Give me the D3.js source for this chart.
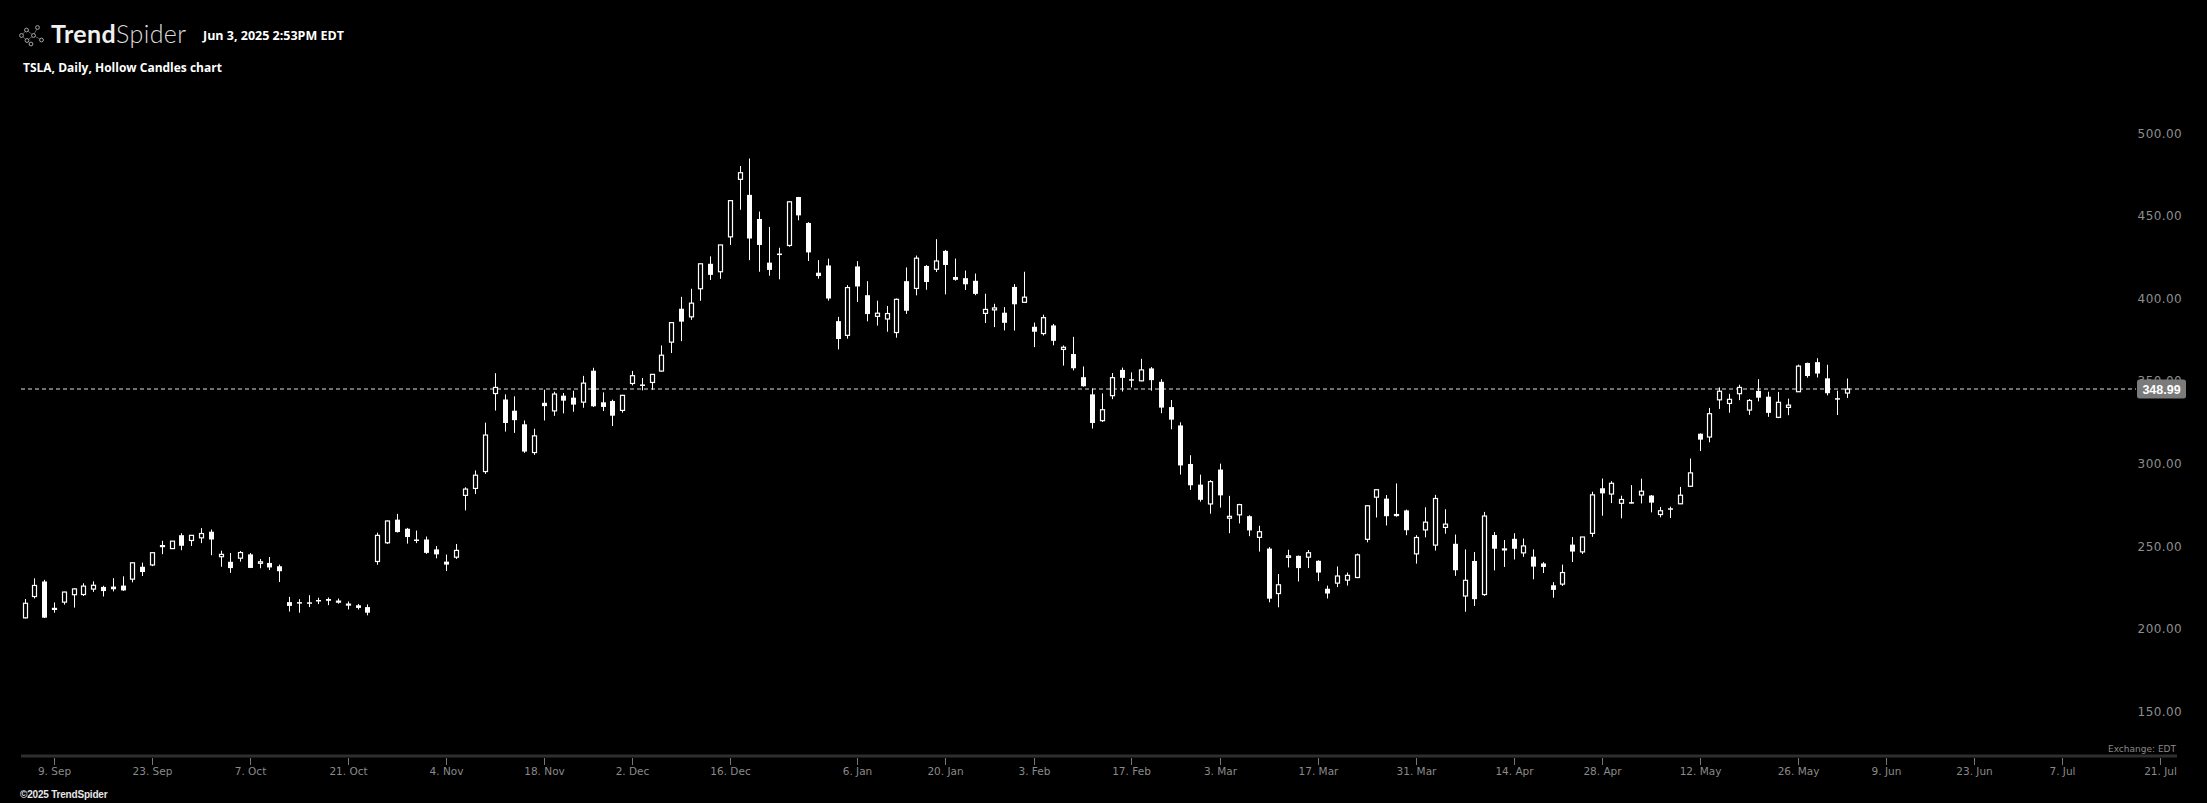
<!DOCTYPE html>
<html><head><meta charset="utf-8">
<script src="https://cdn.jsdelivr.net/npm/d3@7"></script>
<style>html,body{margin:0;padding:0;background:#000;overflow:hidden}</style>
</head><body>
<svg id="chart" width="2207" height="803"></svg>
<script>
// ---- calendar (NYSE trading days) ----
const calendarStart = "2024-09-04";
const calendarEnd = "2025-07-21";
const holidays = ["2024-11-28","2024-12-25","2025-01-01","2025-01-09","2025-01-20",
  "2025-02-17","2025-04-18","2025-05-26","2025-06-19","2025-07-04"];

// ---- OHLC values, one per trading day from 2024-09-04 to 2025-06-03 ----
const opens = [
 210.6,223.5,232.6,216.2,220.1,224.6,224.7,228.0,229.3,229.5,230.1,234.0,241.5,242.6,254.1,252.5,260.6,257.4,259.0,
 262.7,247.6,244.5,246.7,249.0,243.6,243.8,241.8,220.1,220.1,220.0,221.4,222.0,220.7,218.9,218.2,217.1,244.7,256.0,270.0,264.5,258.0,258.0,
 252.0,244.6,247.3,284.7,288.9,299.1,346.3,342.7,335.9,327.7,310.6,340.7,335.8,345.0,343.8,341.1,360.1,341.0,341.8,336.1,
 352.4,351.8,353.0,359.9,377.4,397.6,392.7,409.7,424.8,420.0,441.1,475.9,466.5,451.9,425.5,431.0,435.9,465.2,449.5,419.4,423.8,
 390.1,381.5,423.2,405.8,393.0,391.4,383.2,414.3,409.9,423.5,421.5,432.6,416.8,416.1,414.5,394.8,396.9,395.2,410.8,401.5,
 386.7,382.6,387.5,373.0,370.2,356.2,345.8,329.9,345.0,360.6,355.0,354.0,361.5,353.4,338.1,327.0,303.7,291.2,279.5,
 300.3,270.9,272.9,272.1,259.3,252.5,225.3,247.2,248.1,247.3,245.1,228.2,231.6,233.4,235.0,258.1,283.6,282.7,272.5,275.6,249.3,
 263.8,254.6,265.3,255.4,223.8,245.0,224.7,260.7,251.8,258.4,249.9,247.6,243.5,230.3,231.0,254.9,250.5,261.7,289.0,285.5,279.9,
 280.6,284.9,284.6,273.1,276.9,279.6,290.2,322.0,320.0,342.5,340.3,346.2,336.3,347.9,344.4,331.9,337.9,347.4,364.8,365.3,355.5,
 343.5,346.6];
const highs = [
 222.0,234.5,233.6,219.9,226.4,228.5,231.5,232.7,230.0,234.6,235.7,244.2,244.0,250.0,257.2,257.1,261.8,260.7,264.9,
 264.0,251.2,249.8,251.0,249.8,246.2,247.4,242.8,223.3,221.9,224.3,222.8,222.9,222.3,220.5,219.0,218.7,262.1,269.5,273.5,265.0,263.4,259.8,
 254.0,248.9,255.3,289.6,299.8,328.7,358.6,345.8,344.6,330.0,325.0,348.6,347.4,346.6,348.0,357.0,361.9,347.0,342.6,345.5,
 360.0,355.7,358.1,375.4,389.5,404.8,409.7,424.9,429.3,436.3,463.2,484.0,488.5,456.4,447.1,434.5,462.8,465.3,450.0,427.0,427.9,
 392.7,411.9,426.4,414.3,402.5,399.3,403.8,422.6,429.8,424.0,439.7,433.2,428.0,420.7,418.9,406.7,400.6,398.6,412.5,420.0,
 389.2,394.0,388.4,375.4,380.6,362.7,349.4,346.4,358.7,362.0,359.1,367.3,362.3,355.0,342.4,328.9,309.0,297.2,293.9,
 303.9,284.4,279.6,272.7,266.3,253.4,237.1,251.8,248.3,251.6,245.4,230.1,241.7,238.0,249.5,278.6,288.2,284.9,291.9,276.1,260.6,
 277.5,285.0,276.3,261.0,252.0,250.4,274.7,262.5,257.7,261.8,258.6,252.0,244.3,232.2,242.8,259.5,259.5,286.9,294.9,293.3,284.5,
 290.9,294.8,284.9,277.7,277.9,289.8,307.0,322.2,337.6,350.0,346.1,351.6,343.0,355.0,347.4,347.3,343.2,363.8,365.0,367.7,363.7,
 348.0,355.4];
const lows = [
 210.2,222.3,210.5,213.7,218.6,216.8,223.8,226.3,223.5,226.6,226.9,232.1,235.9,241.9,249.1,252.3,251.5,254.1,255.8,
 248.5,241.5,237.8,244.6,240.7,240.6,239.5,232.3,214.4,213.7,217.1,218.9,218.3,219.2,215.7,215.6,212.1,242.7,255.3,262.2,255.5,255.8,249.3,
 246.6,238.9,246.2,275.6,285.5,297.7,336.0,323.3,322.5,310.4,309.2,330.0,332.8,334.3,335.3,337.7,338.2,335.7,326.6,334.7,
 351.2,348.2,348.6,359.5,370.8,378.0,390.9,402.4,415.0,415.7,436.2,457.5,427.0,420.0,417.6,415.4,435.1,451.1,426.5,415.8,402.5,
 373.0,379.5,401.7,390.0,387.4,383.7,380.1,394.5,405.7,409.1,419.8,406.3,414.6,409.0,405.8,389.0,386.5,384.5,384.4,401.3,
 374.4,381.4,375.5,363.2,360.3,350.5,325.1,329.1,342.9,347.5,350.0,353.7,348.0,334.4,324.7,297.3,288.0,280.9,273.6,
 277.3,261.8,267.7,260.0,250.7,220.0,217.0,241.1,232.6,240.7,232.8,222.3,229.2,230.1,234.6,256.3,271.3,266.5,271.8,260.6,243.4,
 259.3,251.3,261.5,236.0,214.3,217.8,223.9,239.3,241.4,245.9,247.5,233.9,237.7,222.8,229.9,244.4,249.2,259.6,272.4,280.0,270.8,
 279.8,279.8,274.4,271.4,271.0,279.4,290.0,311.5,316.8,337.0,334.7,342.3,333.4,341.6,332.2,331.4,333.2,347.3,355.9,356.0,345.2,
 333.3,343.6];
const closes = [
 219.4,230.2,210.7,216.3,226.2,228.1,229.8,230.3,226.8,227.9,227.2,243.9,238.3,250.0,254.3,257.0,254.2,260.5,261.6,
 258.0,249.0,240.7,250.1,240.8,244.5,241.1,238.8,217.8,219.2,219.6,221.3,220.9,220.7,218.9,216.6,213.7,260.5,269.2,262.5,259.5,257.6,249.9,
 249.0,242.8,251.4,288.5,296.9,321.2,350.0,328.5,330.2,311.2,320.7,338.7,346.0,342.0,339.6,352.6,338.6,338.2,332.9,345.2,
 357.1,351.4,357.9,369.5,389.2,389.8,401.0,424.8,418.1,436.2,463.0,479.9,440.1,436.2,421.1,430.6,462.3,454.1,431.7,417.4,403.8,
 379.3,410.4,411.1,394.4,394.9,394.7,403.3,396.4,428.2,413.8,426.5,424.1,415.1,412.4,406.6,397.2,398.1,389.1,400.3,404.6,
 383.7,392.2,378.2,374.3,361.6,350.7,328.5,336.5,355.9,355.8,354.1,360.6,354.4,337.8,330.5,302.8,290.8,282.0,293.0,
 284.7,272.0,279.1,263.5,262.7,222.2,230.6,248.1,240.7,250.0,238.0,225.3,235.9,236.3,248.7,278.4,288.1,272.1,273.1,263.6,259.2,
 268.5,282.8,267.3,239.4,233.3,221.9,272.2,252.4,252.3,252.4,254.1,241.6,241.4,227.5,238.0,250.7,259.5,285.0,285.9,292.0,282.2,
 280.2,287.2,280.3,275.4,276.2,284.8,298.3,318.4,334.1,347.7,342.8,350.0,342.1,343.8,334.6,341.0,339.3,362.9,356.9,358.4,346.5,
 342.7,348.99];

const lastPrice = 348.99;
const yTickValues = [150, 200, 250, 300, 350, 400, 450, 500];
const xTickLabels = ["9. Sep","23. Sep","7. Oct","21. Oct","4. Nov","18. Nov","2. Dec","16. Dec","6. Jan","20. Jan","3. Feb",
  "17. Feb","3. Mar","17. Mar","31. Mar","14. Apr","28. Apr","12. May","26. May","9. Jun","23. Jun","7. Jul","21. Jul"];
const xTickDates = ["2024-09-09","2024-09-23","2024-10-07","2024-10-21","2024-11-04","2024-11-18","2024-12-02","2024-12-16",
  "2025-01-06","2025-01-20","2025-02-03","2025-02-17","2025-03-03","2025-03-17","2025-03-31","2025-04-14","2025-04-28",
  "2025-05-12","2025-05-26","2025-06-09","2025-06-23","2025-07-07","2025-07-21"];

// ---- build trading calendar ----
const fmt = d3.utcFormat("%Y-%m-%d");
const tradingDays = [];
for (let d = new Date(calendarStart + "T00:00:00Z"); d <= new Date(calendarEnd + "T00:00:00Z"); d = d3.utcDay.offset(d, 1)) {
  const wd = d.getUTCDay();
  const s = fmt(d);
  if (wd === 0 || wd === 6 || holidays.includes(s)) continue;
  tradingDays.push(s);
}
// index of a date: first trading day on/after it
function dayIndex(s) {
  for (let i = 0; i < tradingDays.length; i++) if (tradingDays[i] >= s) return i;
  return tradingDays.length - 1;
}
const candles = opens.map((o, i) => ({i, o, h: highs[i], l: lows[i], c: closes[i]}));

const svg = d3.select("#chart");
svg.append("rect").attr("width", 2207).attr("height", 803).attr("fill", "#000");

const x = d3.scaleLinear().domain([dayIndex("2024-09-09"), dayIndex("2025-07-21")]).range([54, 2160]);
const y = d3.scaleLinear().domain([150, 500]).range([718, 139.5]);

// ---- y axis labels ----
const yAxis = svg.append("g");
yAxis.selectAll("text").data(yTickValues).join("text")
  .attr("x", 2182).attr("y", d => y(d) - 2)
  .attr("text-anchor", "end")
  .attr("font-family", "DejaVu Sans, sans-serif").attr("font-size", 12)
  .attr("letter-spacing", 0.4)
  .attr("fill", "#8e8e8e")
  .text(d3.format(".2f"));

// ---- last price dashed line ----
const ly = Math.round(y(lastPrice));
svg.append("line").attr("x1", 21).attr("x2", 2136).attr("y1", ly).attr("y2", ly)
  .attr("stroke", "#707070").attr("stroke-width", 2).attr("stroke-dasharray", "4,3");

// ---- candles ----
const g = svg.append("g");
candles.forEach(d => {
  const cx = Math.round(x(d.i)) + 0.5;
  g.append("line").attr("x1", cx).attr("x2", cx).attr("y1", y(d.h)).attr("y2", y(d.l))
    .attr("stroke", "#fff").attr("stroke-width", 1);
  const top = y(Math.max(d.o, d.c)), bot = y(Math.min(d.o, d.c));
  if (d.c >= d.o) {
    const h = Math.max(bot - top, 1);
    g.append("rect").attr("x", cx - 2).attr("y", top).attr("width", 4).attr("height", h)
      .attr("fill", "#000").attr("stroke", "#fff").attr("stroke-width", 1.2);
  } else {
    const h = Math.max(bot - top, 1.5);
    g.append("rect").attr("x", cx - 2.5).attr("y", top).attr("width", 5).attr("height", h)
      .attr("fill", "#fff");
  }
});

// ---- last price tag ----
svg.append("rect").attr("x", 2137).attr("y", ly - 9.5).attr("width", 49).attr("height", 19).attr("rx", 2.5)
  .attr("fill", "#7b7b7b");
svg.append("text").attr("x", 2161.5).attr("y", ly + 4.5).attr("text-anchor", "middle")
  .attr("font-family", "Liberation Sans, Arial, sans-serif").attr("font-weight", "bold").attr("font-size", 12.5)
  .attr("fill", "#fff").text(d3.format(".2f")(lastPrice));

// ---- x axis ----
svg.append("line").attr("x1", 21).attr("x2", 2177).attr("y1", 756).attr("y2", 756)
  .attr("stroke", "#2e2e2e").attr("stroke-width", 3);
const xt = svg.append("g");
xTickDates.forEach((s, k) => {
  const tx = Math.round(x(dayIndex(s))) + 0.5;
  xt.append("line").attr("x1", tx).attr("x2", tx).attr("y1", 758).attr("y2", 765)
    .attr("stroke", "#777").attr("stroke-width", 1);
  xt.append("text").attr("x", tx).attr("y", 775).attr("text-anchor", "middle")
    .attr("font-family", "DejaVu Sans, sans-serif").attr("font-size", 10.5)
    .attr("fill", "#8a8a8a").text(xTickLabels[k]);
});
svg.append("text").attr("x", 2176).attr("y", 752).attr("text-anchor", "end")
  .attr("font-family", "DejaVu Sans, sans-serif").attr("font-size", 9)
  .attr("fill", "#8a8a8a").text("Exchange: EDT");

// ---- header ----
const logo = svg.append("g").attr("stroke", "#a8a8a8").attr("fill", "none").attr("stroke-width", 1);
const dots = [[21.5,35.5],[26.5,30],[27,40.5],[33.5,35.5],[37.5,27.5],[41.5,40],[31,44]];
[[0,1],[1,3],[0,2],[2,3],[3,4],[3,5]].forEach(([a,b]) => {
  logo.append("line").attr("x1", dots[a][0]).attr("y1", dots[a][1]).attr("x2", dots[b][0]).attr("y2", dots[b][1])
    .attr("stroke", "#555");
});
dots.forEach(p => logo.append("circle").attr("cx", p[0]).attr("cy", p[1]).attr("r", 1.9).attr("fill", "#000"));

const brand = svg.append("text").attr("x", 51).attr("y", 42.5)
  .attr("font-family", "Lato, sans-serif").attr("font-size", 25).attr("letter-spacing", 0.4).attr("fill", "#f0f0f0");
brand.append("tspan").attr("font-weight", 700).text("Trend");
brand.append("tspan").attr("font-weight", 300).attr("fill", "#dcdcdc").text("Spider");

svg.append("text").attr("x", 203).attr("y", 39.5)
  .attr("font-family", "Open Sans, sans-serif").attr("font-weight", "bold").attr("font-size", 12.5)
  .attr("fill", "#fff").text("Jun 3, 2025 2:53PM EDT");
svg.append("text").attr("x", 23).attr("y", 72)
  .attr("font-family", "Open Sans, sans-serif").attr("font-weight", "bold").attr("font-size", 12)
  .attr("fill", "#fff").text("TSLA, Daily, Hollow Candles chart");

// ---- footer ----
svg.append("text").attr("x", 20).attr("y", 798)
  .attr("font-family", "Liberation Sans, Arial, sans-serif").attr("font-weight", "bold").attr("font-size", 10)
  .attr("letter-spacing", -0.2)
  .attr("fill", "#e6e6e6").text("©2025 TrendSpider");
</script>
</body></html>
